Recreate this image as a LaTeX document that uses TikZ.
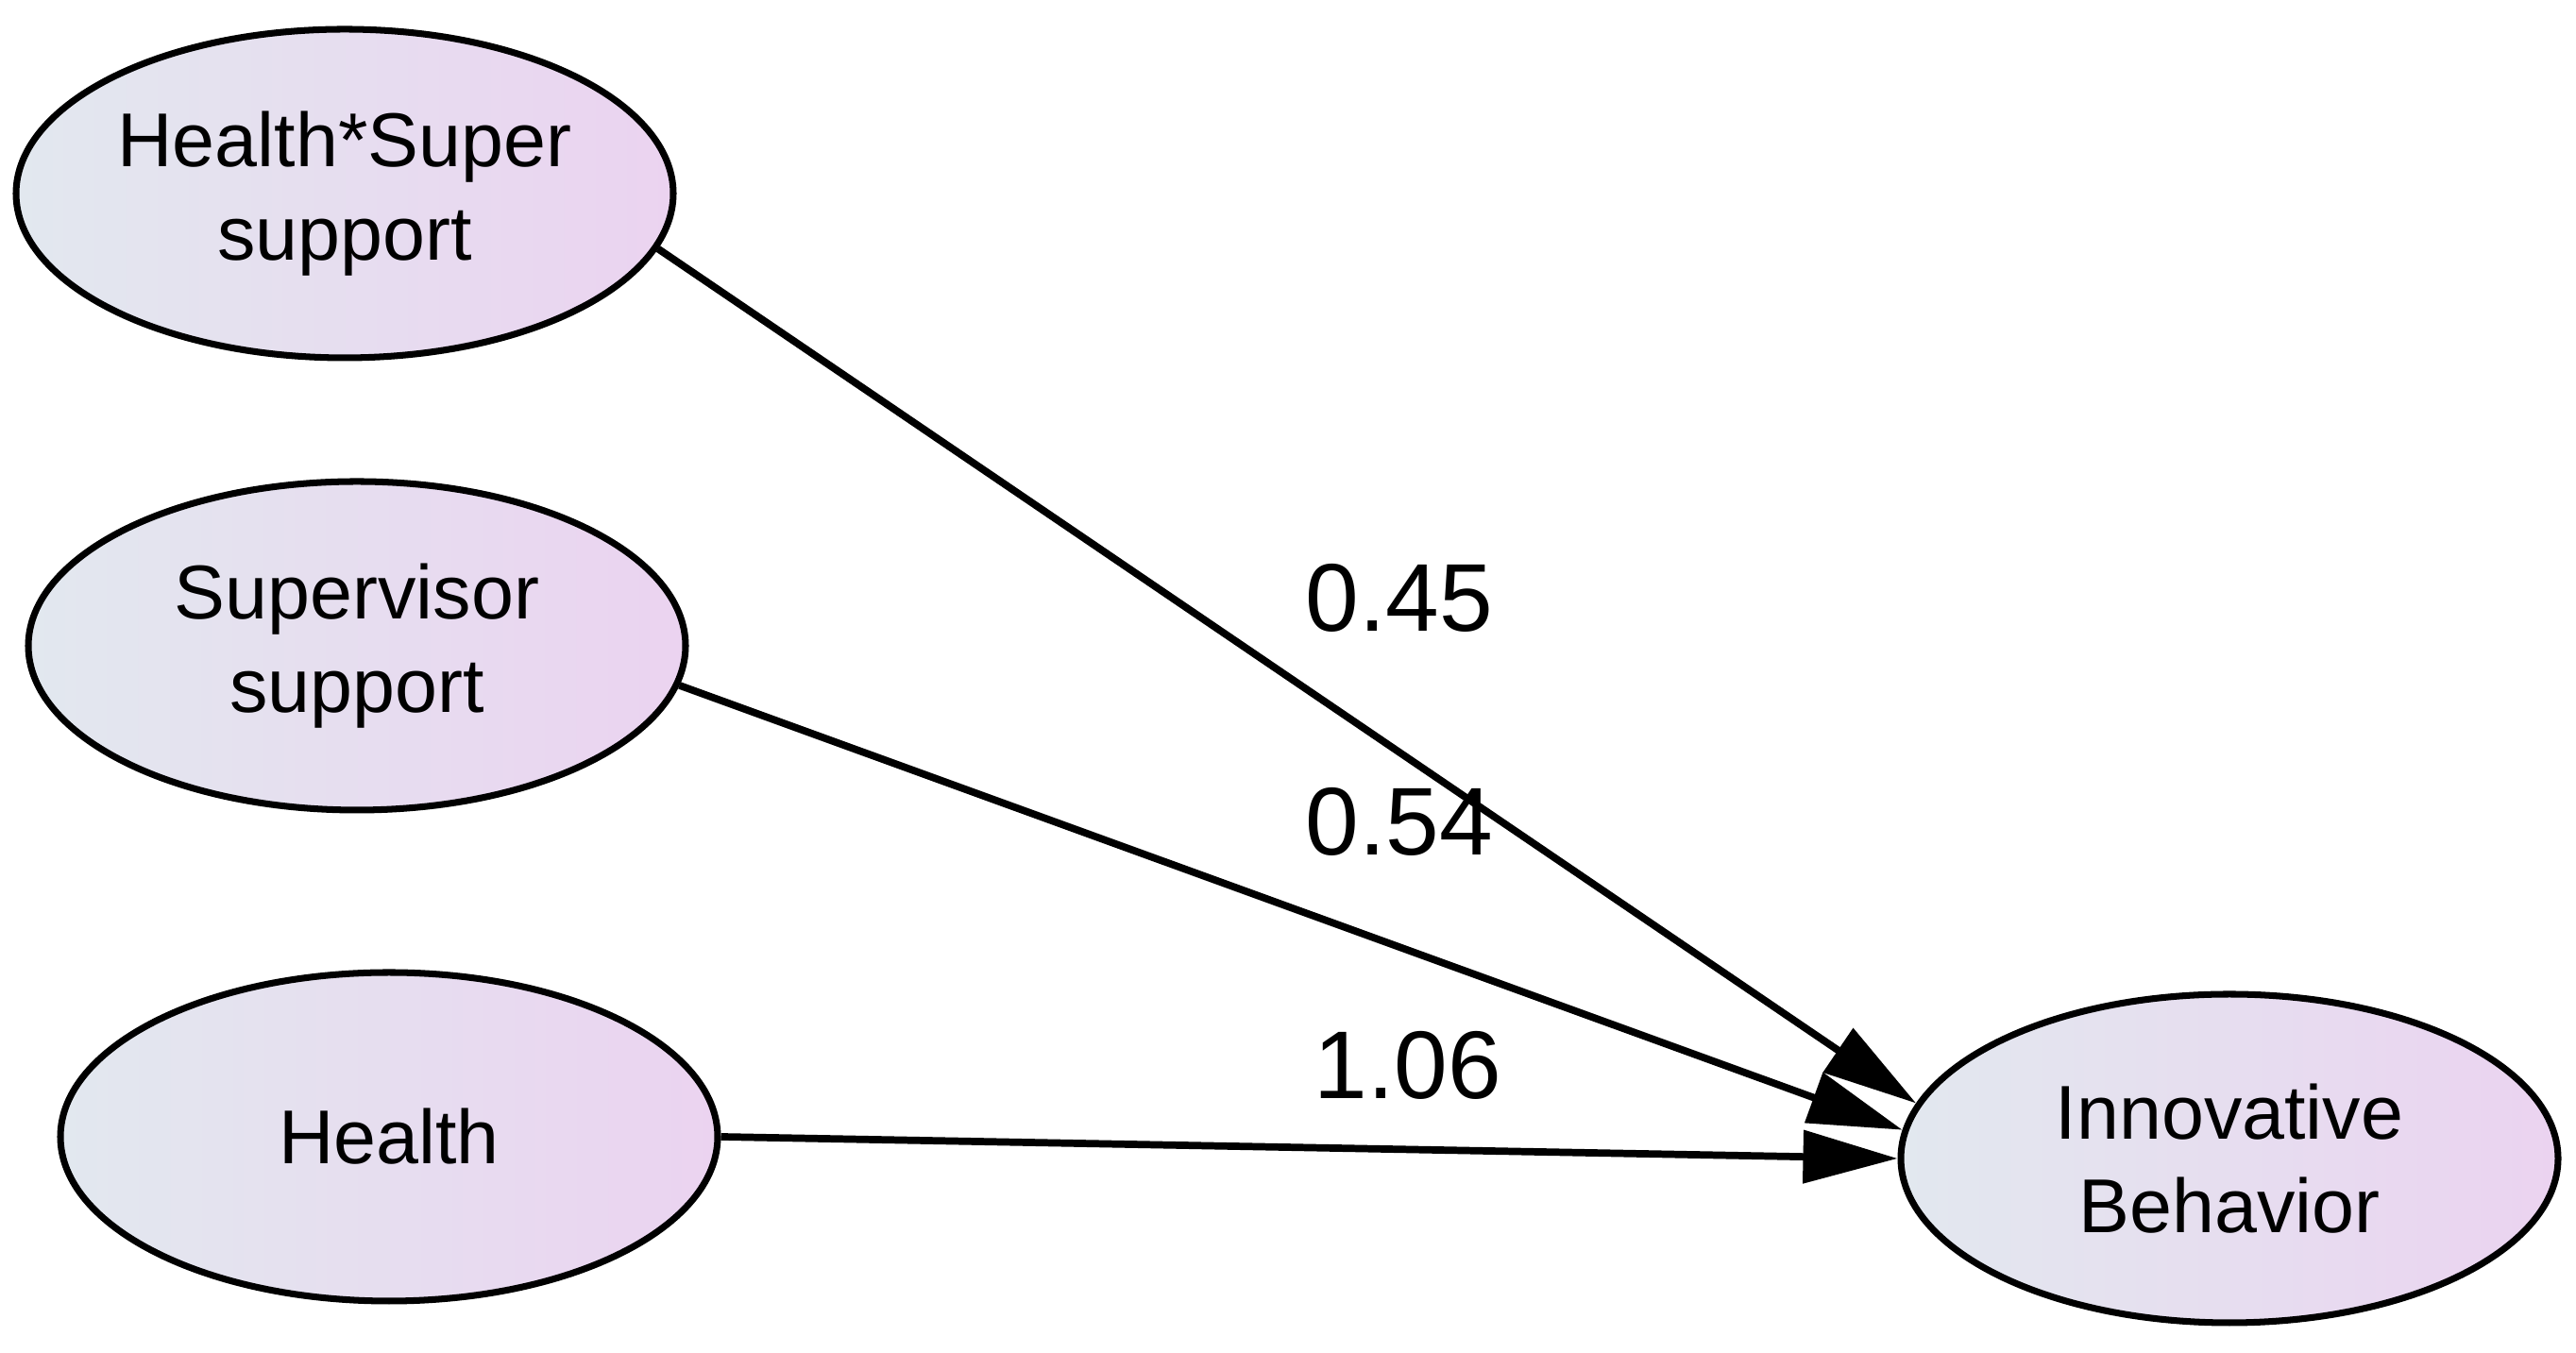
\documentclass[tikz,border=0pt]{standalone}
\usepackage{fontspec}
\setmainfont{Liberation Sans}
\usetikzlibrary{arrows.meta,shapes.geometric}
\definecolor{lc}{HTML}{E2E8EF}
\definecolor{rc}{HTML}{EBD3F0}
\begin{document}
\begin{tikzpicture}
\useasboundingbox (0,0) rectangle (27.28,14.33);
\tikzset{
 lat/.style={draw,line width=2pt,ellipse,minimum width=6.96cm,minimum height=3.48cm,left color=lc,right color=rc,align=center,font=\fontsize{23}{28}\selectfont,inner sep=0pt},
 path/.style={line width=2.2pt,-{Triangle[length=1cm,width=0.55cm]}},
 lbl/.style={font=\fontsize{29}{34}\selectfont}
}
\node[lat] (hs) at (3.65,12.28) {Health*Super\\support};
\node[lat] (ss) at (3.78,7.49) {Supervisor\\support};
\node[lat] (h) at (4.12,2.29) {Health};
\node[lat] (ib) at (23.61,2.06) {Innovative\\Behavior};
\draw[path] (hs.-10) -- (ib.170);
\draw[path] (ss.-7) -- (ib.175);
\draw[path] (h.east) -- (ib.west);
\node[lbl] (l1) at (14.82,8.0) {0.45};
\node[lbl] (l2) at (14.82,5.63) {0.54};
\node[lbl] (l3) at (14.91,3.05) {1.06};
\end{tikzpicture}
\end{document}
